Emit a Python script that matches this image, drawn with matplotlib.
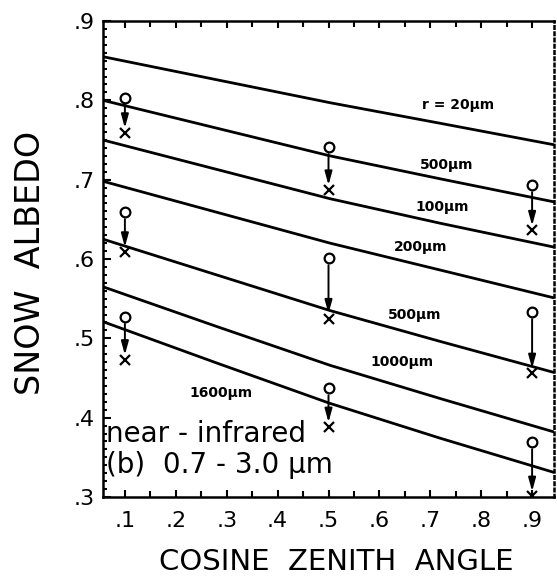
import numpy as np
import matplotlib.pyplot as plt
from matplotlib.ticker import MultipleLocator, FuncFormatter

# cosine of solar zenith angle where curves were read
mu = [0.057, 0.28, 0.503, 0.72, 0.943]

# computed albedo curves, one per grain radius (top to bottom)
alb_20 = [0.855, 0.826, 0.797, 0.771, 0.744]
alb_50 = [0.800, 0.765, 0.730, 0.701, 0.672]
alb_100 = [0.750, 0.713, 0.676, 0.645, 0.615]
alb_200 = [0.698, 0.659, 0.620, 0.586, 0.551]
alb_500 = [0.625, 0.580, 0.535, 0.496, 0.457]
alb_1000 = [0.565, 0.515, 0.466, 0.424, 0.382]
alb_1600 = [0.521, 0.469, 0.418, 0.374, 0.331]
curves = [alb_20, alb_50, alb_100, alb_200, alb_500, alb_1000, alb_1600]

curve_labels = ['r = 20µm', '500µm', '100µm', '200µm', '500µm', '1000µm', '1600µm']
label_x = [0.754, 0.733, 0.723, 0.680, 0.670, 0.644, 0.289]
label_y = [0.794, 0.718, 0.665, 0.615, 0.529, 0.470, 0.431]

# measured points: o = before, x = after correction
obs_mu = [0.1, 0.1, 0.1, 0.5, 0.5, 0.5, 0.9, 0.9, 0.9]
obs_o = [0.803, 0.659, 0.527, 0.741, 0.601, 0.437, 0.693, 0.533, 0.369]
obs_x = [0.759, 0.609, 0.473, 0.687, 0.525, 0.388, 0.636, 0.456, 0.301]

fig = plt.figure(figsize=(5.57, 5.83), dpi=100)
ax = fig.add_axes([103 / 557, 86 / 583, 451 / 557, 476 / 583])

for alb in curves:
    ax.plot(mu, alb, color='black', lw=2.0, solid_capstyle='butt')

for txt, lx, ly in zip(curve_labels, label_x, label_y):
    ax.text(lx, ly, txt, fontsize=10, fontweight='bold', ha='center', va='center')

ax.plot(obs_mu, obs_o, 'o', mfc='white', mec='black', ms=7, mew=1.6, zorder=5)
ax.plot(obs_mu, obs_x, 'x', color='black', ms=7, mew=1.6, zorder=5)
for m, o, x in zip(obs_mu, obs_o, obs_x):
    ax.annotate('', xy=(m, x), xytext=(m, o),
                arrowprops=dict(arrowstyle='-|>,head_length=0.8,head_width=0.22',
                                color='black', lw=1.4, shrinkA=5, shrinkB=3.5,
                                mutation_scale=10))

ax.text(0.063, 0.380, 'near - infrared', fontsize=20, ha='left', va='center')
ax.text(0.063, 0.340, '(b)  0.7 - 3.0 μm', fontsize=20, ha='left', va='center')

ax.set_xlim(0.057, 0.943)
ax.set_ylim(0.3, 0.9)

# spines / ticks
for s in ['left', 'bottom', 'top']:
    ax.spines[s].set_linewidth(1.8)
ax.spines['right'].set_linewidth(1.8)
ax.spines['right'].set_linestyle((0, (1, 1.5)))

ax.xaxis.set_major_locator(MultipleLocator(0.1))
ax.xaxis.set_minor_locator(MultipleLocator(0.05))
ax.yaxis.set_major_locator(MultipleLocator(0.1))
ax.yaxis.set_minor_locator(MultipleLocator(0.01))
fmt = FuncFormatter(lambda v, p: f'{v:.1f}'.lstrip('0'))
ax.xaxis.set_major_formatter(fmt)
ax.yaxis.set_major_formatter(fmt)

ax.tick_params(axis='x', which='both', direction='in', top=True, bottom=True,
               width=1.5, labelsize=16, pad=10)
ax.tick_params(axis='x', which='major', length=5)
ax.tick_params(axis='x', which='minor', length=4)
ax.tick_params(axis='y', which='both', direction='in', left=True, right=False,
               width=1.5, labelsize=16, pad=6)
ax.tick_params(axis='y', which='major', length=6)
ax.tick_params(axis='y', which='minor', length=3)

fig.text(31 / 557, 1 - 263 / 583, 'SNOW  ALBEDO', fontsize=24, rotation=90,
         ha='center', va='center')
fig.text(336 / 557, 1 - 562 / 583, 'COSINE  ZENITH  ANGLE', fontsize=21,
         ha='center', va='center')

fig.savefig('out.png', dpi=100)
